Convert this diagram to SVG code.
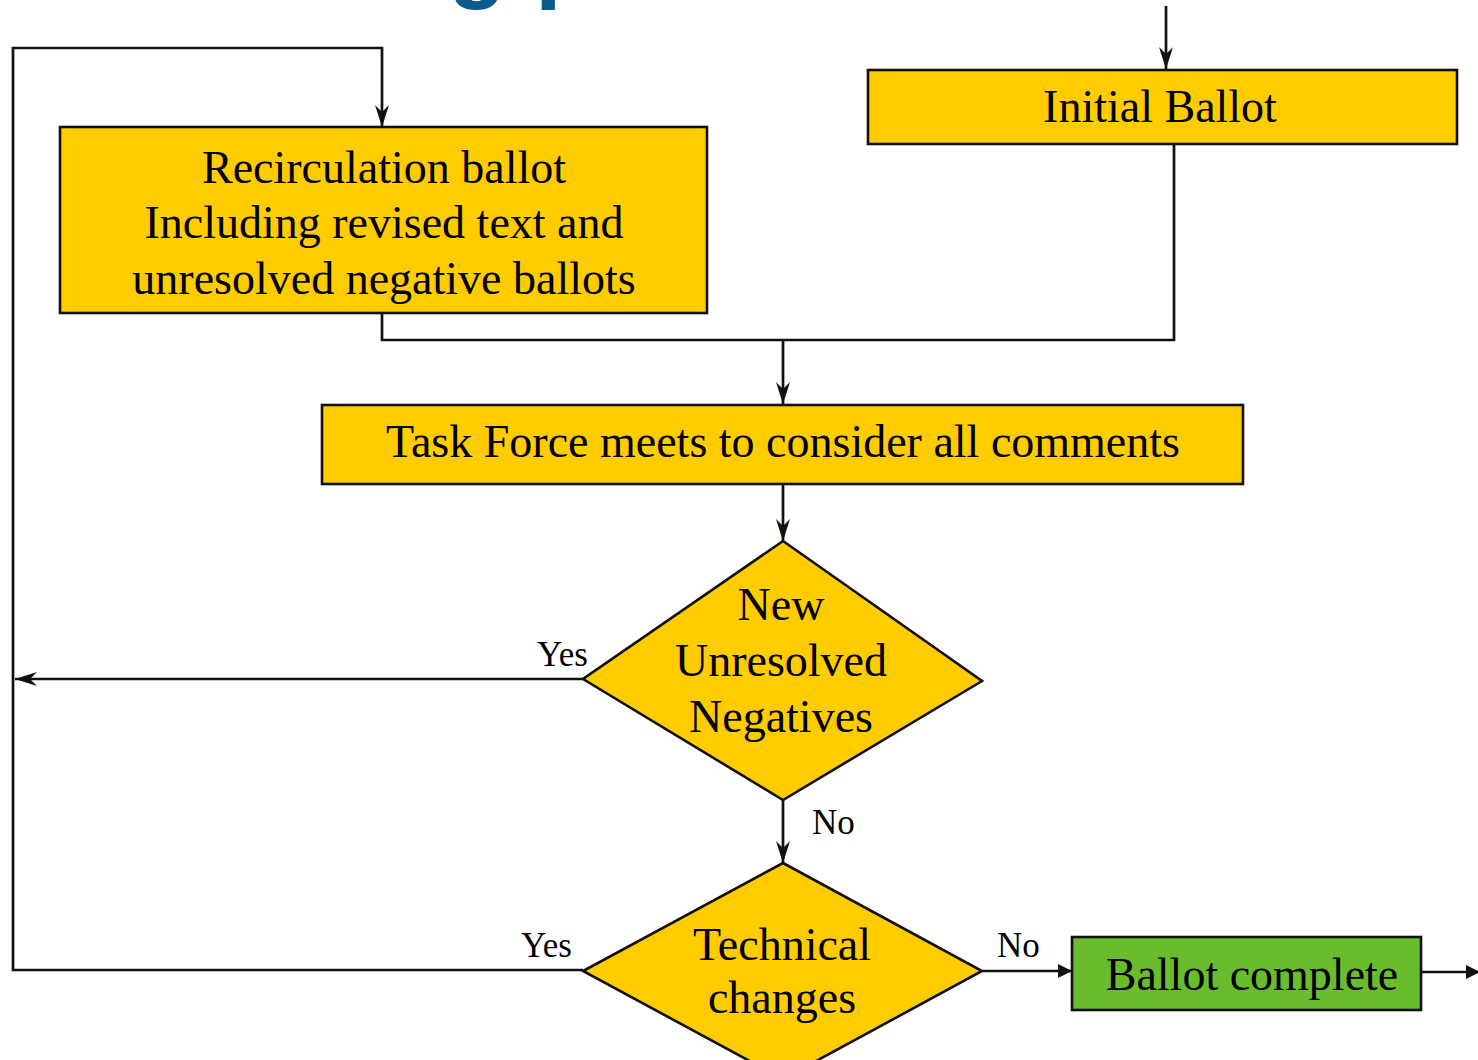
<svg xmlns="http://www.w3.org/2000/svg" width="1478" height="1060" viewBox="0 0 1478 1060">
<style>
  .box{fill:#FFCC00;stroke:#111;stroke-width:2.6}
  .done{fill:#69BC2C;stroke:#111;stroke-width:2.6}
  .t{font-family:"Liberation Serif","Times New Roman",serif;font-size:46px;fill:#000;text-anchor:middle}
  .lbl{font-family:"Liberation Serif","Times New Roman",serif;font-size:35px;fill:#000}
  .ln{fill:none;stroke:#111;stroke-width:2.7}
  .title{font-family:"Liberation Sans",Arial,sans-serif;font-weight:bold;font-size:96px;fill:#0B5A8E}
</style>
<defs>
  <marker id="vee" markerUnits="userSpaceOnUse" viewBox="0 0 22 14" refX="22" refY="7" markerWidth="22" markerHeight="14" orient="auto">
    <path d="M0,0 L22,7 L0,14 L7,7 z" fill="#111"/>
  </marker>
  <marker id="tri" markerUnits="userSpaceOnUse" viewBox="0 0 14 14" refX="14" refY="7" markerWidth="14" markerHeight="14" orient="auto">
    <path d="M0,0 L14,7 L0,14 z" fill="#111"/>
  </marker>
</defs>
<rect width="1478" height="1060" fill="#fff"/>
<text class="title" y="-10"><tspan x="448">g</tspan><tspan x="535">p</tspan></text>

<g id="connectors">
  <path class="ln" d="M1166,6 L1166,69" marker-end="url(#vee)"/>
  <path class="ln" d="M1174,144 L1174,340 L382,340 L382,313"/>
  <path class="ln" d="M783,340 L783,404" marker-end="url(#vee)"/>
  <path class="ln" d="M783,484 L783,541" marker-end="url(#vee)"/>
  <path class="ln" d="M583,679 L15,679" marker-end="url(#vee)"/>
  <path class="ln" d="M783,800 L783,863" marker-end="url(#vee)"/>
  <path class="ln" d="M583,970 L13,970 L13,48 L382,48 L382,127" marker-end="url(#vee)"/>
  <path class="ln" d="M982,971 L1072,971" marker-end="url(#tri)"/>
  <path class="ln" d="M1421,972 L1480,972" marker-end="url(#tri)"/>
  <text class="lbl" x="537" y="666">Yes</text>
  <text class="lbl" x="812" y="834">No</text>
  <text class="lbl" x="521" y="957">Yes</text>
  <text class="lbl" x="997" y="957">No</text>
</g>

<g id="initial-ballot">
  <rect class="box" x="868" y="70" width="589" height="74"/>
  <text class="t" x="1160" y="122">Initial Ballot</text>
</g>

<g id="recirculation-ballot">
  <rect class="box" x="60" y="127" width="647" height="186"/>
  <text class="t" x="384" y="183">Recirculation ballot</text>
  <text class="t" x="384" y="238">Including revised text and</text>
  <text class="t" x="384" y="294">unresolved negative ballots</text>
</g>

<g id="task-force">
  <rect class="box" x="322" y="405" width="921" height="79"/>
  <text class="t" x="783" y="457">Task Force meets to consider all comments</text>
</g>

<g id="new-unresolved-negatives">
  <polygon class="box" points="783,541 982,681 783,800 583,679"/>
  <text class="t" x="781" y="620">New</text>
  <text class="t" x="781" y="676">Unresolved</text>
  <text class="t" x="781" y="732">Negatives</text>
</g>

<g id="technical-changes">
  <polygon class="box" points="783,863 982,971 783,1079 583,971"/>
  <text class="t" x="782" y="960">Technical</text>
  <text class="t" x="782" y="1013">changes</text>
</g>

<g id="ballot-complete">
  <rect class="done" x="1072" y="937" width="349" height="73"/>
  <text class="t" x="1252" y="990">Ballot complete</text>
</g>
</svg>
